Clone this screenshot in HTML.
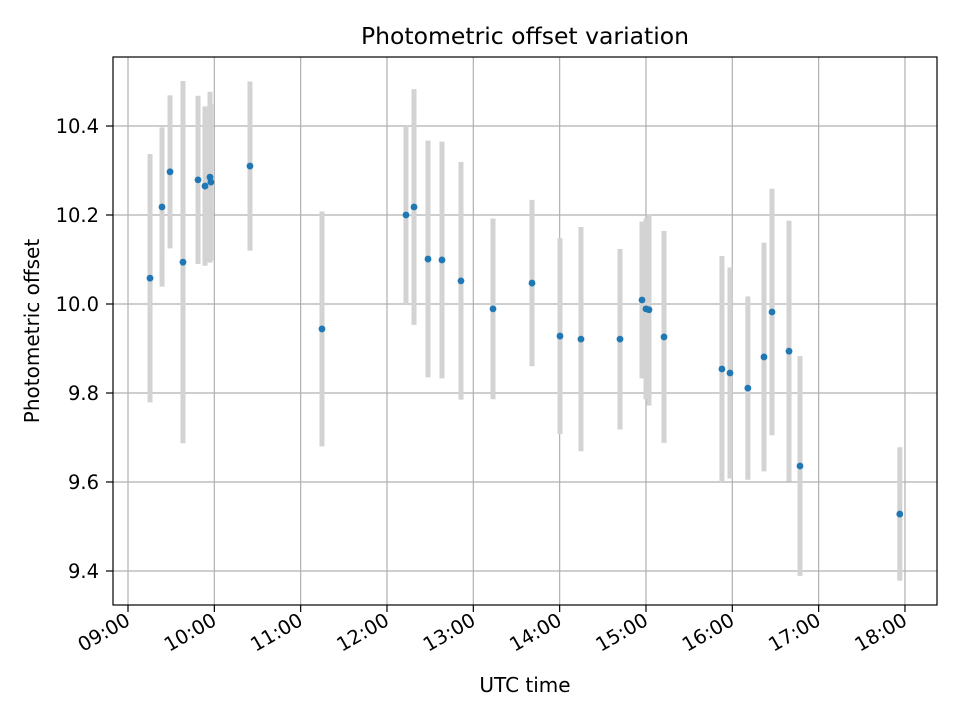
<!DOCTYPE html>
<html><head><meta charset="utf-8"><style>
body{margin:0;background:#fff}
text{font-family:"DejaVu Sans","Liberation Sans",sans-serif;fill:#000}
</style></head><body>
<svg id="chart" width="960" height="720" xmlns="http://www.w3.org/2000/svg">
<rect width="960" height="720" fill="#fff"/>
<g id="grid"></g>
<g id="bars"></g>
<g id="pts"></g>
<rect x="113" y="57" width="824" height="548" fill="none" stroke="#000" stroke-width="1.2"/>
<g id="ticks"></g>
<text x="525" y="44" font-size="23.5" text-anchor="middle">Photometric offset variation</text>
<text x="525" y="692" font-size="20" text-anchor="middle">UTC time</text>
<text x="39" y="331" font-size="20" text-anchor="middle" transform="rotate(-90 39 331)">Photometric offset</text>
</svg>
<script>
const times=[9.255,9.394,9.487,9.637,9.811,9.892,9.95,9.96,10.413,11.247,12.22,12.313,12.475,12.637,12.857,13.228,13.68,14.004,14.247,14.699,14.954,15.0,15.035,15.209,15.88,15.973,16.18,16.367,16.46,16.657,16.784,17.94];
const offsets=[10.058,10.218,10.297,10.094,10.279,10.265,10.285,10.274,10.310,9.944,10.2,10.218,10.101,10.099,10.052,9.989,10.047,9.928,9.921,9.921,10.009,9.989,9.987,9.926,9.854,9.845,9.811,9.881,9.982,9.894,9.636,9.528];
const errors=[0.279,0.179,0.172,0.407,0.189,0.179,0.192,0.176,0.19,0.264,0.2,0.265,0.266,0.266,0.267,0.203,0.187,0.22,0.252,0.203,0.176,0.203,0.215,0.238,0.254,0.237,0.206,0.257,0.277,0.293,0.247,0.15];
const xTicks=[9,10,11,12,13,14,15,16,17,18];
const xTickLabels=["09:00","10:00","11:00","12:00","13:00","14:00","15:00","16:00","17:00","18:00"];
const yTicks=[9.4,9.6,9.8,10.0,10.2,10.4];
const yTickLabels=["9.4","9.6","9.8","10.0","10.2","10.4"];
const X=t=>128+(t-9)*86.33;
const Y=v=>304-(v-10)*445;
const NS="http://www.w3.org/2000/svg";
function mk(tag,attrs,parent){const e=document.createElementNS(NS,tag);for(const k in attrs)e.setAttribute(k,attrs[k]);parent.appendChild(e);return e;}
const grid=document.getElementById('grid'),ticks=document.getElementById('ticks'),bars=document.getElementById('bars'),pts=document.getElementById('pts');
xTicks.forEach((t,i)=>{const x=X(t);
 const g=mk('line',{x1:x,x2:x,y1:57,y2:605,stroke:'#b0b0b0','stroke-width':1.2},grid);
 
 const tk=mk('line',{x1:x,x2:x,y1:605,y2:612,stroke:'#000','stroke-width':1.2},ticks);
 
 const ax=x-4,ay=611;
 const tx=mk('text',{x:ax,y:ay+15,'font-size':19.5,'text-anchor':'end',transform:`rotate(-30 ${ax} ${ay})`},ticks);
 tx.textContent=xTickLabels[i];
 });
yTicks.forEach((v,i)=>{const y=Y(v);
 const g=mk('line',{x1:113,x2:937,y1:y,y2:y,stroke:'#b0b0b0','stroke-width':1.2},grid);
 
 const tk=mk('line',{x1:106,x2:113,y1:y,y2:y,stroke:'#000','stroke-width':1.2},ticks);
 
 const tx=mk('text',{x:99,y:y+7,'font-size':19.5,'text-anchor':'end'},ticks);
 tx.textContent=yTickLabels[i];
 });
times.forEach((t,i)=>{const x=X(t);
 const b=mk('line',{x1:x,x2:x,y1:Y(offsets[i]+errors[i]),y2:Y(offsets[i]-errors[i]),stroke:'#d3d3d3','stroke-width':5},bars);
 
 const c=mk('circle',{cx:x,cy:Y(offsets[i]),r:3.4,fill:'#1f77b4'},pts);
 });
</script>
</body></html>
